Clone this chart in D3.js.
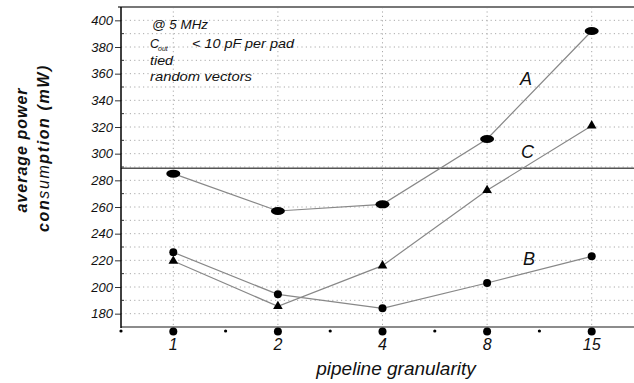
<!DOCTYPE html>
<html><head><meta charset="utf-8">
<script src="https://cdn.jsdelivr.net/npm/d3@7"></script>
<style>body{margin:0;background:#fff;} text{font-family:Arial,"Liberation Sans",sans-serif;}</style>
</head><body>
<svg id="c" width="634" height="383"></svg>
<script>
const categories = ["1","2","4","8","15"];
const seriesA = [285, 257, 262, 311, 392];
const seriesB = [226, 194.5, 184, 203, 223];
const seriesC = [219.5, 185.5, 216, 272.5, 321];
const yTicks = [180,200,220,240,260,280,300,320,340,360,380,400];
const refValue = 289;
const notes = ["@ 5 MHz", "< 10 pF per pad", "tied", "random vectors"];

const svg = d3.select("#c");
const L = 121, R = 644, T = 7, B = 327;
const x = d3.scaleBand().domain(categories).range([L, R]).paddingInner(0).paddingOuter(0);
const cx = d => x(d) + x.bandwidth()/2;
const y = d3.scaleLinear().domain([170, 410]).range([B, T]);

// gridlines
const minor = d3.range(180, 401, 10);
svg.append("g").selectAll("line").data(minor).join("line")
  .attr("x1", L).attr("x2", 634).attr("y1", d=>y(d)).attr("y2", d=>y(d))
  .attr("stroke", "#aaa").attr("stroke-width", 1).attr("stroke-dasharray", "1.2,3.2");
svg.append("g").selectAll("line").data(categories).join("line")
  .attr("x1", d=>cx(d)).attr("x2", d=>cx(d)).attr("y1", T).attr("y2", B)
  .attr("stroke", "#aaa").attr("stroke-width", 1).attr("stroke-dasharray", "1.2,3.2");

// borders
svg.append("line").attr("x1", 118).attr("x2", 634).attr("y1", T).attr("y2", T).attr("stroke", "#777").attr("stroke-width", 2);
svg.append("line").attr("x1", L).attr("x2", 634).attr("y1", B).attr("y2", B).attr("stroke", "#666").attr("stroke-width", 1.5);
svg.append("line").attr("x1", L).attr("x2", 634).attr("y1", y(refValue)).attr("y2", y(refValue)).attr("stroke", "#555").attr("stroke-width", 1.5);

// y axis
const yAxis = d3.axisLeft(y).tickValues(yTicks).tickSize(6).tickPadding(2);
const gy = svg.append("g").attr("transform", `translate(${L},0)`).call(yAxis);
gy.select(".domain").remove();
gy.selectAll(".tick line").attr("stroke", "#333");
gy.selectAll("text").attr("font-size", 13).attr("font-style", "italic").attr("fill", "#111").attr("font-family", "Arial, 'Liberation Sans', sans-serif");
svg.append("line").attr("x1", L).attr("x2", L).attr("y1", T).attr("y2", B+1).attr("stroke", "#000").attr("stroke-width", 1.5);
svg.append("g").selectAll("line").data(d3.range(190, 401, 20)).join("line")
  .attr("x1", L).attr("x2", L+3).attr("y1", d=>y(d)).attr("y2", d=>y(d)).attr("stroke", "#333");

// x axis
const xAxis = d3.axisBottom(x).tickSize(0).tickPadding(12);
const gx = svg.append("g").attr("transform", `translate(0,${B})`).call(xAxis);
gx.select(".domain").remove();
gx.selectAll("text").attr("font-size", 16).attr("font-style", "italic").attr("fill", "#111").attr("font-family", "Arial, 'Liberation Sans', sans-serif");
svg.append("g").selectAll("circle").data(categories).join("circle")
  .attr("cx", d=>cx(d)).attr("cy", B+4.5).attr("r", 4).attr("fill", "#000");
svg.append("g").selectAll("circle").data(categories).join("circle")
  .attr("cx", d=>x(d)).attr("cy", B+4).attr("r", 1.6).attr("fill", "#000");

// lines
const line = d3.line().x((d,i)=>cx(categories[i])).y(d=>y(d));
[seriesA, seriesB, seriesC].forEach(s => {
  svg.append("path").datum(s).attr("d", line).attr("fill", "none").attr("stroke", "#888").attr("stroke-width", 1.2);
});
// markers
svg.append("g").selectAll("ellipse").data(seriesA).join("ellipse")
  .attr("cx", (d,i)=>cx(categories[i])).attr("cy", d=>y(d)).attr("rx", 7).attr("ry", 4).attr("fill", "#000");
svg.append("g").selectAll("circle").data(seriesB).join("circle")
  .attr("cx", (d,i)=>cx(categories[i])).attr("cy", d=>y(d)).attr("r", 4).attr("fill", "#000");
const tri = d3.symbol().type(d3.symbolTriangle).size(40);
svg.append("g").selectAll("path").data(seriesC).join("path")
  .attr("transform", (d,i)=>`translate(${cx(categories[i])},${y(d)})`).attr("d", tri).attr("fill", "#000");

// series labels
const lab = (t, xx, yy) => svg.append("text").attr("x", xx).attr("y", yy).attr("font-size", 18).attr("font-style", "italic").attr("fill", "#111").text(t);
lab("A", 520, 85);
lab("C", 521, 158);
lab("B", 523, 265);

// notes
const note = (t, xx, yy, w, fs) => svg.append("text").attr("x", xx).attr("y", yy).attr("font-size", fs||13)
  .attr("font-style", "italic").attr("fill", "#111").attr("textLength", w).attr("lengthAdjust", "spacingAndGlyphs").text(t);
note(notes[0], 152, 29, 56);
note("C", 150, 48, 9);
svg.append("text").attr("x", 158).attr("y", 50.5).attr("font-size", 7).attr("font-style", "italic").attr("fill", "#111").text("out");
note(notes[1], 192, 48, 102);
note(notes[2], 150, 65, 23, 12.5);
note(notes[3], 150, 81, 102);

// axis titles
svg.append("text").attr("x", 396).attr("y", 375).attr("text-anchor", "middle").attr("font-size", 19)
  .attr("font-style", "italic").attr("fill", "#111").text("pipeline granularity");
const t1 = svg.append("text").attr("transform", "translate(27,150) rotate(-90)").attr("text-anchor", "middle")
  .attr("font-size", 16).attr("font-weight", "bold").attr("font-style", "italic").attr("fill", "#111")
  .attr("letter-spacing", 1).text("average power");
const t2 = svg.append("text").attr("transform", "translate(49,148) rotate(-90)").attr("text-anchor", "middle")
  .attr("font-size", 16).attr("font-style", "italic").attr("fill", "#111").attr("letter-spacing", 1.6);
t2.append("tspan").attr("font-weight", "bold").text("con");
t2.append("tspan").text("sum");
t2.append("tspan").attr("font-weight", "bold").text("ption (mW)");
</script>
</body></html>
